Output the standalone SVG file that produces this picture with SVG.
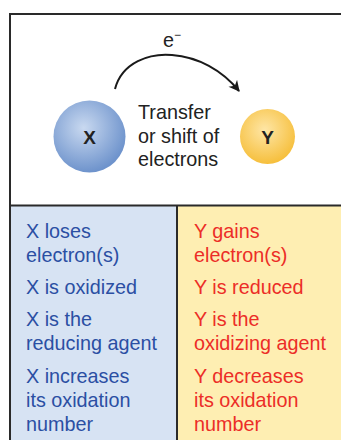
<svg xmlns="http://www.w3.org/2000/svg" width="341" height="440" viewBox="0 0 341 440">
<defs>
<radialGradient id="gx" cx="0.42" cy="0.38" r="0.62">
<stop offset="0" stop-color="#c9d9f0"/>
<stop offset="1" stop-color="#6e93cc"/>
</radialGradient>
<radialGradient id="gy" cx="0.45" cy="0.38" r="0.62">
<stop offset="0" stop-color="#fee6a6"/>
<stop offset="1" stop-color="#f6bf3c"/>
</radialGradient>
<marker id="ah" viewBox="0 0 10 10" refX="9" refY="5" markerWidth="12" markerHeight="11" orient="auto" markerUnits="userSpaceOnUse">
<path d="M0,0 L10,5 L0,10 L3,5 Z" fill="#1a1a1a"/>
</marker>
<style>
.t{font-family:"Liberation Sans",Arial,sans-serif;font-size:19.8px}
.b{fill:#2b4fa3}
.r{fill:#ec2d27}
.d{fill:#222}
.lbl{font-family:"Liberation Sans",Arial,sans-serif;font-size:19px;font-weight:bold;fill:#222;text-anchor:middle}
</style>
</defs>
<rect x="0" y="0" width="341" height="440" fill="#fff"/>
<rect x="10" y="206" width="167" height="240" fill="#d7e3f3"/>
<rect x="177" y="206" width="170" height="240" fill="#feeeb2"/>
<g id="frame" fill="none" stroke="#2a2a2a" stroke-width="2">
<path d="M10,450 V14 H345"/>
<path d="M10,205.5 H345"/>
<path d="M177,206 V450"/>
</g>
<g id="connectors">
<path d="M115,89 C122,62 150,53 172,55 C198,57 222,70 239,91" fill="none" stroke="#1a1a1a" stroke-width="2" marker-end="url(#ah)"/>
<text class="t d" x="172" y="47" text-anchor="middle">e<tspan font-size="12" dy="-8">−</tspan></text>
<text class="t d" x="138" y="119">Transfer</text>
<text class="t d" x="138" y="143">or shift of</text>
<text class="t d" x="138" y="166">electrons</text>
</g>
<g id="X">
<circle cx="89.5" cy="136.5" r="36" fill="url(#gx)"/>
<text class="lbl" x="89.5" y="143.5">X</text>
</g>
<g id="Y">
<circle cx="267.5" cy="136.5" r="27.5" fill="url(#gy)"/>
<text class="lbl" x="267.5" y="143.5">Y</text>
</g>
<g id="left">
<text class="t b" x="26" y="238">X loses</text>
<text class="t b" x="26" y="262">electron(s)</text>
<text class="t b" x="26" y="294">X is oxidized</text>
<text class="t b" x="26" y="326">X is the</text>
<text class="t b" x="26" y="350">reducing agent</text>
<text class="t b" x="26" y="383">X increases</text>
<text class="t b" x="26" y="407">its oxidation</text>
<text class="t b" x="26" y="431">number</text>
</g>
<g id="right">
<text class="t r" x="194" y="238">Y gains</text>
<text class="t r" x="194" y="262">electron(s)</text>
<text class="t r" x="194" y="294">Y is reduced</text>
<text class="t r" x="194" y="326">Y is the</text>
<text class="t r" x="194" y="350">oxidizing agent</text>
<text class="t r" x="194" y="383">Y decreases</text>
<text class="t r" x="194" y="407">its oxidation</text>
<text class="t r" x="194" y="431">number</text>
</g>
</svg>
